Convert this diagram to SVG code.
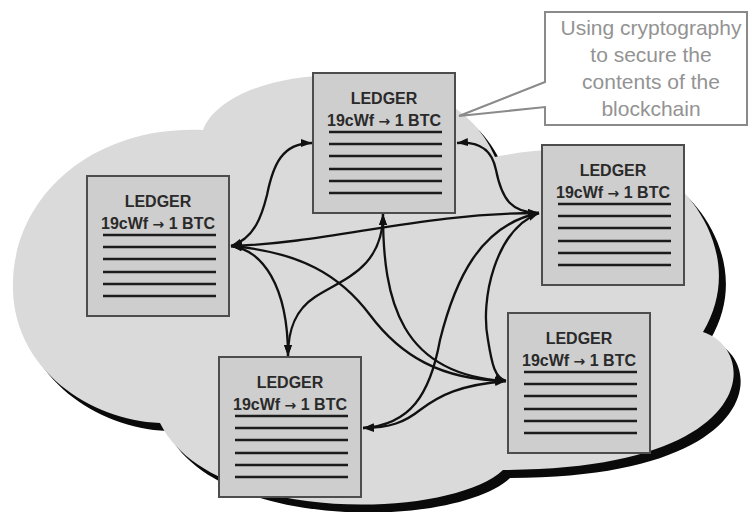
<svg xmlns="http://www.w3.org/2000/svg" width="749" height="512" viewBox="0 0 749 512">
<style>
.cloud{fill:#dadada;stroke:none}
.shadow{fill:#0a0a0a;stroke:none}
.box{fill:#cecece;stroke:#4d4d4d;stroke-width:2}
.t{font-family:"Liberation Sans",Arial,sans-serif;font-weight:bold;font-size:16px;fill:#2a2a2a;text-anchor:middle}
.ar{font-family:"DejaVu Sans",sans-serif;font-size:14px;font-weight:bold}
.ln{stroke:#1c1c1c;stroke-width:2.6;fill:none}
.c{fill:none;stroke:#111;stroke-width:2.3}
.call{fill:#ffffff;stroke:#8a8a8a;stroke-width:2}
.ct{font-family:"Liberation Sans",Arial,sans-serif;font-size:21px;fill:#939393;text-anchor:middle}
</style>
<defs>
<marker id="ah" viewBox="0 0 11 8" refX="11" refY="4" markerWidth="11" markerHeight="8" markerUnits="userSpaceOnUse" orient="auto-start-reverse">
<path d="M0,0 L11,4 L0,8 z" fill="#111"/>
</marker>
<path id="cloudpath" d="M203,130 C230,60 450,45 495,157 C530,150 600,140 655,170 C695,190 745,262 703,332 C760,350 760,470 503,470 C450,520 210,525 160,423 C90,420 15,370 13,290 C10,200 90,125 203,130 Z"/>
<g id="ledger">
<rect class="box" x="0" y="0" width="142" height="140"/>
<text class="t" x="71" y="31">LEDGER</text>
<text class="t" x="71" y="53">19cWf <tspan class="ar">→</tspan> 1 BTC</text>
<path class="ln" d="M16,59H129M16,71H129M16,83H129M16,96H129M16,108H129M16,120H129"/>
</g>
</defs>
<rect width="749" height="512" fill="#ffffff"/>
<g id="cloud">
<use href="#cloudpath" class="shadow" transform="translate(7,8)"/>
<use href="#cloudpath" class="cloud"/>
</g>
<g id="connectors">
<path class="c" marker-start="url(#ah)" marker-end="url(#ah)" d="M231,246 C255,238 262,215 267,195 C273,165 282,143 312,143"/>
<path class="c" marker-start="url(#ah)" marker-end="url(#ah)" d="M457,143 C480,141 492,150 496,170 C502,200 512,213 539,213"/>
<path class="c" marker-start="url(#ah)" marker-end="url(#ah)" d="M231,246 C330,243 420,213 539,213"/>
<path class="c" marker-start="url(#ah)" marker-end="url(#ah)" d="M231,246 C262,250 288,285 288,356"/>
<path class="c" marker-start="url(#ah)" marker-end="url(#ah)" d="M231,246 C300,252 340,275 370,315 C400,355 440,380 506,381"/>
<path class="c" marker-start="url(#ah)" marker-end="url(#ah)" d="M383,214 C383,270 340,280 315,297 C295,310 288,330 288,356"/>
<path class="c" marker-start="url(#ah)" marker-end="url(#ah)" d="M383,214 C383,300 400,375 506,381"/>
<path class="c" marker-start="url(#ah)" marker-end="url(#ah)" d="M539,213 C480,225 455,280 440,340 C430,395 410,425 363,428"/>
<path class="c" marker-start="url(#ah)" marker-end="url(#ah)" d="M539,213 C495,230 480,300 488,340 C492,365 495,378 506,381"/>
<path class="c" marker-start="url(#ah)" marker-end="url(#ah)" d="M506,381 C460,385 440,395 420,410 C405,422 390,428 363,428"/>
</g>
<g id="node-top"><use href="#ledger" x="313" y="73"/></g>
<g id="node-left"><use href="#ledger" x="87" y="176"/></g>
<g id="node-right"><use href="#ledger" x="542" y="145"/></g>
<g id="node-bottom-right"><use href="#ledger" x="508" y="313"/></g>
<g id="node-bottom-left"><use href="#ledger" x="219" y="357"/></g>
<g id="callout">
<path class="call" d="M545,82 L545,12 L747,12 L747,125 L545,125 L545,107 L459,116 Z"/>
<text class="ct" x="651" y="35">Using cryptography</text>
<text class="ct" x="651" y="62">to secure the</text>
<text class="ct" x="651" y="89">contents of the</text>
<text class="ct" x="651" y="116">blockchain</text>
</g>
</svg>
